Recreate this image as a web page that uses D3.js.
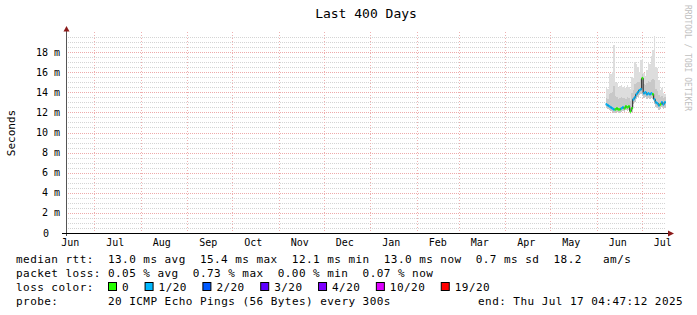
<!DOCTYPE html>
<html>
<head>
<meta charset="utf-8">
<script src="https://cdn.jsdelivr.net/npm/d3@7"></script>
<style>
  body { margin: 0; background: #fff; }
  text { font-family: "DejaVu Sans Mono", monospace; }
</style>
</head>
<body>
<svg id="chart" width="697" height="315"></svg>
<script>
// time range of the graph
var endTime = "2025-07-17T04:47:12Z";
var rangeDays = 400;
var firstDay = "2025-06-07T00:00:00Z";

// one value per day, starting at firstDay (milliseconds)
var medianMs = [12.8, 12.7, 12.6, 12.5, 12.4, 12.3, 12.3, 12.4, 12.3, 12.3,
                12.4, 12.5, 12.4, 12.6, 12.5, 12.6, 12.1, 12.4, 13.3, 13.5,
                13.8, 14.0, 14.2, 14.3, 15.4, 13.9, 14.0, 13.8, 13.9, 13.8,
                13.9, 13.8, 13.3, 13.0, 12.9, 12.7, 12.8, 13.0, 12.8, 13.0];
var smokeMinMs = [12.4, 12.3, 12.2, 12.1, 12.0, 11.9, 11.9, 12.0, 11.9, 11.9,
                  12.0, 12.1, 12.0, 12.2, 12.1, 12.2, 11.8, 12.0, 12.8, 13.0,
                  13.3, 13.5, 13.7, 13.8, 13.6, 13.4, 13.5, 13.3, 13.4, 13.3,
                  13.4, 13.3, 12.8, 12.5, 12.4, 12.2, 12.3, 12.5, 12.3, 12.4];
var smokeMidMs = [13.4, 13.3, 13.8, 13.9, 14.0, 14.6, 13.6, 13.5, 13.3, 13.4,
                  13.5, 13.4, 13.4, 13.3, 13.5, 13.4, 13.1, 13.9, 14.2, 14.8,
                  14.9, 15.0, 15.0, 15.3, 15.8, 14.8, 14.7, 14.9, 15.1, 15.0,
                  15.2, 15.3, 15.2, 14.3, 14.1, 13.7, 13.5, 13.6, 13.4, 13.5];
var smokeMaxMs = [14.4, 14.3, 15.9, 15.8, 16.0, 18.7, 15.0, 14.9, 14.4, 14.6,
                  14.7, 14.5, 14.6, 14.4, 14.7, 14.5, 14.3, 15.5, 15.4, 17.0,
                  16.8, 16.5, 16.0, 17.2, 17.3, 15.9, 15.6, 16.2, 17.0, 16.8,
                  17.6, 18.2, 19.6, 16.5, 16.4, 15.2, 14.2, 14.4, 13.9, 13.8];
var lossPct = [0.10, 0.10, 0.10, 0.05, 0.10, 0.15, 0, 0, 0, 0,
               0.05, 0.05, 0, 0, 0, 0, 0, 0, 0.05, 0.05,
               0.10, 0.10, 0.05, 0.10, 0, 0.10, 0.05, 0.10, 0.05, 0.10,
               0.05, 0, 0.10, 0.05, 0.10, 0.05, 0, 0.05, 0.10, 0.05];

var pings = 20;
var yTicks = [0, 2, 4, 6, 8, 10, 12, 14, 16, 18];
var yLabels = ["0", "2 m", "4 m", "6 m", "8 m", "10 m", "12 m", "14 m", "16 m", "18 m"];

var lossLevels = [0, 1, 2, 3, 4, 10, 19];
var lossLabels = ["0", "1/20", "2/20", "3/20", "4/20", "10/20", "19/20"];
var lossColors = ["#26ff00", "#00b8ff", "#0059ff", "#5e00ff", "#7e00ff", "#dd00ff", "#ff0000"];

var medianLine = "median rtt:  13.0 ms avg  15.4 ms max  12.1 ms min  13.0 ms now  0.7 ms sd  18.2   am/s";
var lossLine = "packet loss: 0.05 % avg  0.73 % max  0.00 % min  0.07 % now";
var probeLabel = "probe:";
var probeText = "20 ICMP Echo Pings (56 Bytes) every 300s";
var endText = "end: Thu Jul 17 04:47:12 2025";

var svg = d3.select('#chart');
svg.append('rect').attr('width', 697).attr('height', 315).style('fill', '#fff');

var end = new Date(endTime);
var start = d3.utcDay.offset(end, -rangeDays);
var day0 = new Date(firstDay);

var x = d3.scaleUtc().domain([start, end]).range([66, 666]);
var y = d3.scaleLinear().domain([0, 20]).range([233, 32]);
var crisp = function (v) { return Math.round(v) + 0.5; };

var charW = 7.08;
var legendFont = '11px';
var legendSpacing = '0.45px';

// Title
svg.append('text')
    .text('Last 400 Days')
    .attr('x', 366)
    .attr('y', 18)
    .attr('text-anchor', 'middle')
    .style('font-size', '13px')
    .style('fill', '#000');

// Grid
var grid = svg.append('g').classed('grid', true).attr('shape-rendering', 'crispEdges');
var minor = y.ticks(40).filter(function (v) { return v > 0 && v % 2 !== 0; });
grid.selectAll('line.minor')
    .data(minor)
    .enter()
    .append('line')
    .classed('minor', true)
    .attr('x1', 66).attr('x2', 666)
    .attr('y1', function (d) { return crisp(y(d)); })
    .attr('y2', function (d) { return crisp(y(d)); })
    .style('stroke', '#d4d4d4')
    .style('stroke-dasharray', '1,1');
grid.selectAll('line.major')
    .data(yTicks.filter(function (v) { return v > 0; }))
    .enter()
    .append('line')
    .classed('major', true)
    .attr('x1', 66).attr('x2', 666)
    .attr('y1', function (d) { return crisp(y(d)); })
    .attr('y2', function (d) { return crisp(y(d)); })
    .style('stroke', '#eeaaaa')
    .style('stroke-dasharray', '1,1');
var monthStarts = d3.utcMonth.range(d3.utcMonth.ceil(start), end);
grid.selectAll('line.vmajor')
    .data(monthStarts)
    .enter()
    .append('line')
    .classed('vmajor', true)
    .attr('x1', function (d) { return crisp(x(d)); })
    .attr('x2', function (d) { return crisp(x(d)); })
    .attr('y1', 32).attr('y2', 233)
    .style('stroke', '#eeb0b0')
    .style('stroke-dasharray', '1,2');

// Smoke
var days = medianMs.map(function (m, i) { return d3.utcDay.offset(day0, i); });
var plot = svg.append('g').classed('plot', true);
var band = function (lo, hi, fill) {
    plot.append('g').selectAll('rect')
        .data(days)
        .enter()
        .append('rect')
        .attr('x', function (d) { return x(d); })
        .attr('width', function (d) { return x(d3.utcDay.offset(d, 1)) - x(d); })
        .attr('y', function (d, i) { return y(hi[i]); })
        .attr('height', function (d, i) { return y(lo[i]) - y(hi[i]); })
        .style('fill', fill)
        .attr('shape-rendering', 'crispEdges');
};
band(smokeMinMs, smokeMaxMs, '#dddddd');
band(smokeMinMs, smokeMidMs, '#c8c8c8');

// Median line (dark) under the loss coloured bands
var medPts = [];
days.forEach(function (d, i) {
    medPts.push([x(d), y(medianMs[i])]);
    medPts.push([x(d3.utcDay.offset(d, 1)), y(medianMs[i])]);
});
plot.append('path')
    .attr('d', d3.line()(medPts))
    .style('fill', 'none')
    .style('stroke', '#202020')
    .style('stroke-width', 1);

var lossColor = function (pct) {
    var lost = pct / 100 * pings;
    for (var k = 0; k < lossLevels.length; k++) {
        if (lost <= lossLevels[k]) return lossColors[k];
    }
    return lossColors[lossColors.length - 1];
};
plot.append('g').selectAll('rect')
    .data(days)
    .enter()
    .append('rect')
    .attr('x', function (d) { return x(d); })
    .attr('width', function (d) { return x(d3.utcDay.offset(d, 1)) - x(d); })
    .attr('y', function (d, i) { return y(medianMs[i]) - 1.3; })
    .attr('height', 2.6)
    .style('fill', function (d, i) { return lossColor(lossPct[i]); });

// Axes
var axisCol = '#8b1a1a';
svg.append('line')
    .attr('x1', 66.5).attr('x2', 66.5)
    .attr('y1', 236).attr('y2', 29)
    .style('stroke', '#555');
svg.append('path')
    .attr('d', 'M63.5,31.5 L66.5,26 L69.5,31.5 Z')
    .style('fill', axisCol);
svg.append('line')
    .attr('x1', 62).attr('x2', 670)
    .attr('y1', 233.5).attr('y2', 233.5)
    .style('stroke', '#000');
svg.append('path')
    .attr('d', 'M668,230.5 L674,233.5 L668,236.5 Z')
    .style('fill', axisCol);

// Y labels
svg.append('g').selectAll('text')
    .data(yTicks)
    .enter()
    .append('text')
    .text(function (d, i) { return yLabels[i]; })
    .attr('x', function (d) { return d === 0 ? 49 : 60; })
    .attr('y', function (d) { return y(d) + 3.5; })
    .attr('text-anchor', 'end')
    .style('font-size', '10px')
    .style('fill', '#000');

// Month labels at mid-month
var monthMids = d3.utcMonth.range(d3.utcMonth.floor(start), end)
    .map(function (m) { return d3.utcDay.offset(m, 14); })
    .filter(function (d) { return d >= start && d <= end; });
svg.append('g').selectAll('text')
    .data(monthMids)
    .enter()
    .append('text')
    .text(function (d) { return d3.utcFormat('%b')(d); })
    .attr('x', function (d) { return x(d); })
    .attr('y', 246)
    .attr('text-anchor', 'middle')
    .style('font-size', '10px')
    .style('fill', '#000');

// Y axis title
svg.append('text')
    .text('Seconds')
    .attr('transform', 'translate(15,133) rotate(-90)')
    .attr('text-anchor', 'middle')
    .style('font-size', legendFont)
    .style('fill', '#000');

// Watermark
svg.append('text')
    .text('RRDTOOL / TOBI OETIKER')
    .attr('transform', 'translate(685,5) rotate(90)')
    .style('font-size', '8px')
    .style('fill', '#c0c0c0');

// Legend
var legend = svg.append('g')
    .style('font-size', legendFont)
    .style('letter-spacing', legendSpacing)
    .style('fill', '#000');
var legendText = function (s, lx, ly) {
    legend.append('text')
        .attr('xml:space', 'preserve')
        .attr('x', lx).attr('y', ly)
        .text(s);
};
legendText(medianLine, 16, 263);
legendText(lossLine, 16, 277);
legendText('loss color:', 16, 291);
var lx = 108;
lossLabels.forEach(function (lab, k) {
    legend.append('rect')
        .attr('x', lx + 0.5).attr('y', 282.5)
        .attr('width', 8).attr('height', 8)
        .style('fill', lossColors[k])
        .style('stroke', '#000');
    legendText(lab, lx + 14, 291);
    lx += 14 + lab.length * charW + 15.5;
});
legendText(probeLabel, 16, 305);
legendText(probeText, 108, 305);
legendText(endText, 478, 305);
</script>
</body>
</html>
